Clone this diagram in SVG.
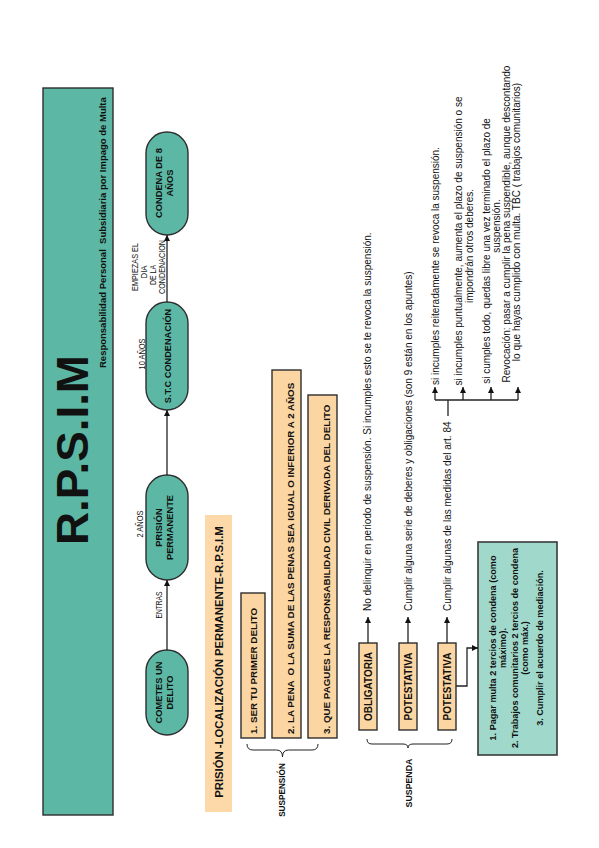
<svg xmlns="http://www.w3.org/2000/svg" width="599" height="848" viewBox="0 0 599 848">
<style>
.tl{fill:#5cb8a4;stroke:#2e2e2e;stroke-width:1.4}
.pk{fill:#fcd6a2;stroke:#2e2e2e;stroke-width:1.4}
.pl{fill:#fdd9aa}
.gb{fill:#a0d9cb;stroke:#3a3a3a;stroke-width:1.6}
text{font-family:"Liberation Sans",Arial,sans-serif;fill:#111}
.b{font-weight:bold}
.n{font-family:"Liberation Sans Narrow","Liberation Sans",Arial,sans-serif;font-size:8.5px}
.m{text-anchor:middle}
.r{font-size:10px}
.c{stroke:#222;stroke-width:1.3;fill:none}
.br{stroke:#222;stroke-width:1;fill:none}
</style>
<defs>
<marker id="ah" viewBox="0 0 10 10" refX="10" refY="5" markerWidth="6" markerHeight="6" markerUnits="userSpaceOnUse" orient="auto"><path d="M0,0 L10,5 L0,10 z" fill="#111"/></marker>
</defs>
<rect width="599" height="848" fill="#fff"/>
<g transform="translate(0,848) rotate(-90)">
<g id="title">
<rect class="tl" x="33" y="43" width="727" height="70"/>
<text class="b m" x="398" y="88" font-size="45" textLength="190" lengthAdjust="spacingAndGlyphs">R.P.S.I.M</text>
<text class="b" x="480" y="106" font-size="9.5" xml:space="preserve">Responsabilidad Personal  Subsidiaria por Impago de Multa</text>
</g>
<g id="n-cometes">
<rect class="tl" x="113" y="146" width="85" height="42" rx="21"/>
<text class="b m" font-size="9.3" x="155.5" y="161.5">COMETES UN</text>
<text class="b m" font-size="9.3" x="155.5" y="173">DELITO</text>
</g>
<g id="n-prision">
<rect class="tl" x="268" y="146" width="105" height="42" rx="21"/>
<text class="b m" font-size="9.3" x="320.5" y="161.5">PRISIÓN</text>
<text class="b m" font-size="9.3" x="320.5" y="173">PERMANENTE</text>
</g>
<g id="n-stc">
<rect class="tl" x="438" y="146" width="108" height="42" rx="21"/>
<text class="b m" font-size="9.2" x="492" y="170.5">S.T.C CONDENACIÓN</text>
</g>
<g id="n-condena">
<rect class="tl" x="613" y="146" width="103" height="42" rx="21"/>
<text class="b m" font-size="9.3" x="665" y="161.5">CONDENA DE 8</text>
<text class="b m" font-size="9.3" x="665" y="173">AÑOS</text>
</g>
<g id="labels">
<text class="n m" x="243" y="162" textLength="27" lengthAdjust="spacingAndGlyphs">ENTRAS</text>
<text class="n m" x="324" y="143" textLength="27" lengthAdjust="spacingAndGlyphs">2 AÑOS</text>
<text class="n m" x="494" y="145" textLength="31" lengthAdjust="spacingAndGlyphs">10 AÑOS</text>
<text class="n m" x="581" y="138" textLength="48" lengthAdjust="spacingAndGlyphs">EMPIEZAS EL</text>
<text class="n m" x="576" y="147" textLength="13" lengthAdjust="spacingAndGlyphs">DIA</text>
<text class="n m" x="573" y="156" textLength="20" lengthAdjust="spacingAndGlyphs">DE LA</text>
<text class="n m" x="581" y="165" textLength="54" lengthAdjust="spacingAndGlyphs">CONDENACION</text>
</g>
<g id="n-header">
<rect class="pl" x="36" y="205" width="297" height="27"/>
<text class="b m" font-size="11.3" x="186" y="223">PRISIÓN -LOCALIZACIÓN PERMANENTE-R.P.S.I.M</text>
</g>
<g id="n-req1">
<rect class="pk" x="110" y="241" width="145" height="24"/>
<text class="b" font-size="9.8" x="114" y="257">1. SER TU PRIMER DELITO</text>
</g>
<g id="n-req2">
<rect class="pk" x="110" y="272" width="368" height="29"/>
<text class="b" font-size="9.8" x="114" y="294" xml:space="preserve">2. LA PENA  O LA SUMA DE LAS PENAS SEA IGUAL O INFERIOR A 2 AÑOS</text>
</g>
<g id="n-req3">
<rect class="pk" x="110" y="308" width="343" height="29"/>
<text class="b" font-size="9.8" x="114" y="330">3. QUE PAGUES LA RESPONSABILIDAD CIVIL DERIVADA DEL DELITO</text>
</g>
<g id="n-suspension">
<text class="b m" font-size="8.2" x="58" y="285">SUSPENSIÓN</text>
</g>
<g id="n-obligatoria">
<rect class="pk" x="118" y="359" width="87" height="18"/>
<text class="b m" font-size="10" x="161.5" y="371.5">OBLIGATORIA</text>
</g>
<g id="n-potestativa1">
<rect class="pk" x="118" y="399" width="87" height="18"/>
<text class="b m" font-size="10" x="161.5" y="411.5">POTESTATIVA</text>
</g>
<g id="n-potestativa2">
<rect class="pk" x="118" y="438" width="87" height="18"/>
<text class="b m" font-size="10" x="161.5" y="450.5">POTESTATIVA</text>
</g>
<g id="n-suspenda">
<text class="b m" font-size="8.8" x="65" y="412">SUSPENDA</text>
</g>
<g id="n-texts">
<text class="r" x="237" y="370.5">No delinquir en periodo de suspensión. Si incumples esto se te revoca la suspensión.</text>
<text class="r" x="237" y="411.5">Cumplir alguna serie de deberes y obligaciones (son 9 están en los apuntes)</text>
<text class="r" x="237" y="450.5">Cumplir algunas de las medidas del art. 84</text>
</g>
<g id="n-outcomes">
<text class="r" x="463" y="439">si incumples reiteradamente se revoca la suspensión.</text>
<text class="r m" x="607" y="462">si incumples puntualmente, aumenta el plazo de suspensión o se</text>
<text class="r m" x="602" y="473">impondrán otros deberes.</text>
<text class="r m" x="597" y="490">si cumples todo, quedas libre una vez terminado el plazo de</text>
<text class="r m" x="622" y="500">suspensión.</text>
<text class="r m" x="624" y="509.5">Revocación: pasar a cumplir la pena suspendible, aunque descontando</text>
<text class="r m" x="626" y="519.5">lo que hayas cumplido con multa. TBC ( trabajos comunitarios)</text>
</g>
<g id="n-medidas">
<rect class="gb" x="93" y="478" width="213" height="79"/>
<text class="b m" font-size="9.1" x="200" y="496">1. Pagar multa 2 tercios de condena (como</text>
<text class="b m" font-size="9.1" x="200" y="506">máximo).</text>
<text class="b m" font-size="9.1" x="200" y="517.5">2. Trabajos comunitarios 2 tercios de condena</text>
<text class="b m" font-size="9.1" x="200" y="528">(como máx.)</text>
<text class="b m" font-size="9.1" x="200" y="543">3. Cumplir el acuerdo de mediación.</text>
</g>
<g id="connectors">
<line class="c" x1="198" y1="167" x2="268" y2="167" marker-end="url(#ah)"/>
<line class="c" x1="373" y1="167" x2="438" y2="167" marker-end="url(#ah)"/>
<line class="c" x1="546" y1="167" x2="613" y2="167" marker-end="url(#ah)"/>
<line class="c" x1="205" y1="368" x2="231" y2="368" marker-end="url(#ah)"/>
<line class="c" x1="205" y1="408" x2="231" y2="408" marker-end="url(#ah)"/>
<line class="c" x1="205" y1="447" x2="231" y2="447" marker-end="url(#ah)"/>
<polyline class="c" points="162,456 162,467 200,467 200,478" marker-end="url(#ah)"/>
<line class="c" x1="432" y1="448" x2="448" y2="448"/>
<line class="c" x1="448" y1="435" x2="448" y2="518"/>
<line class="c" x1="448" y1="435" x2="461" y2="435" marker-end="url(#ah)"/>
<line class="c" x1="448" y1="463" x2="461" y2="463" marker-end="url(#ah)"/>
<line class="c" x1="448" y1="491" x2="461" y2="491" marker-end="url(#ah)"/>
<line class="c" x1="448" y1="518" x2="461" y2="518" marker-end="url(#ah)"/>
<path class="br" d="M104,247 Q98,247 98,253 L98,276.5 Q98,282.5 91,282.5 Q98,282.5 98,288.5 L98,312 Q98,318 104,318"/>
<path class="br" d="M109,367 Q104,367 104,372 L104,403 Q104,408 100,408 Q104,408 104,413 L104,447 Q104,452 109,452"/>
</g>
</g>
</svg>
